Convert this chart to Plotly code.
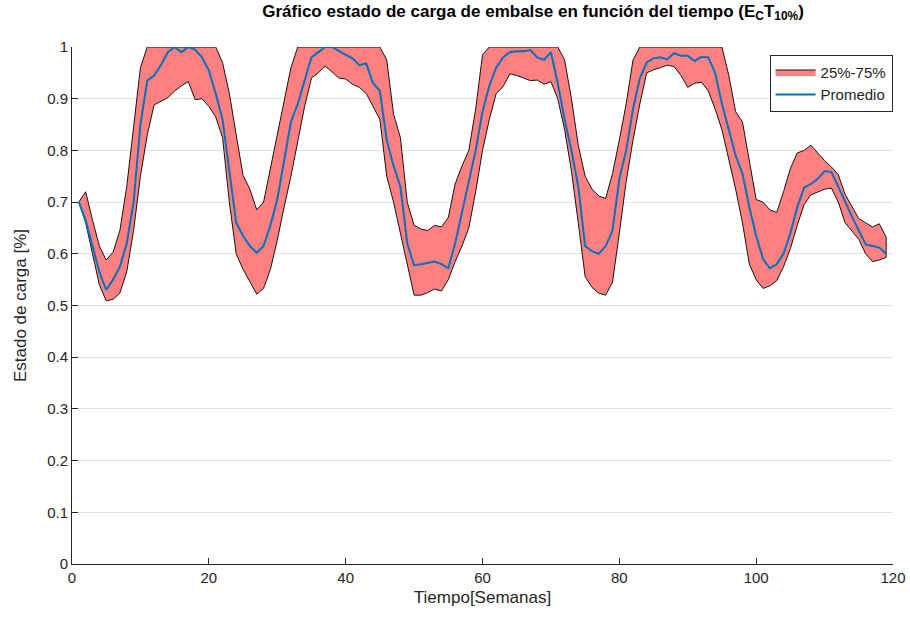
import plotly.graph_objects as go

semanas = list(range(1, 120))

percentil_75 = [
    0.70, 0.72, 0.665, 0.615, 0.588, 0.603, 0.645, 0.73, 0.845, 0.96,
    1.0, 1.0, 1.0, 1.0, 1.0, 1.0, 1.0, 1.0, 1.0, 1.0,
    1.0, 0.97, 0.91, 0.83, 0.752, 0.725, 0.685, 0.70, 0.765, 0.83,
    0.895, 0.96, 1.0, 1.0, 1.0, 1.0, 1.0, 1.0, 1.0, 1.0,
    1.0, 1.0, 1.0, 1.0, 1.0, 0.975, 0.87, 0.825, 0.70, 0.655,
    0.648, 0.645, 0.655, 0.652, 0.67, 0.735, 0.77, 0.80, 0.88, 0.985,
    1.0, 1.0, 1.0, 1.0, 1.0, 1.0, 1.0, 1.0, 1.0, 1.0,
    1.0, 0.975, 0.90, 0.81, 0.75, 0.725, 0.712, 0.707, 0.755, 0.82,
    0.89, 0.975, 1.0, 1.0, 1.0, 1.0, 1.0, 1.0, 1.0, 1.0,
    1.0, 1.0, 1.0, 1.0, 1.0, 0.945, 0.875, 0.855, 0.78, 0.705,
    0.70, 0.685, 0.68, 0.72, 0.765, 0.795, 0.80, 0.81, 0.795, 0.78,
    0.768, 0.753, 0.715, 0.69, 0.668, 0.66, 0.652, 0.658, 0.632,
]

percentil_25 = [
    0.70, 0.66, 0.60, 0.54, 0.509, 0.512, 0.524, 0.565, 0.645, 0.75,
    0.83, 0.888, 0.895, 0.902, 0.915, 0.925, 0.933, 0.898, 0.90, 0.885,
    0.865, 0.825, 0.70, 0.60, 0.57, 0.545, 0.522, 0.533, 0.57, 0.626,
    0.69, 0.75, 0.815, 0.885, 0.94, 0.95, 0.963, 0.952, 0.94, 0.938,
    0.928, 0.922, 0.91, 0.885, 0.86, 0.75, 0.70, 0.645, 0.58, 0.52,
    0.52, 0.525, 0.532, 0.528, 0.55, 0.585, 0.615, 0.65, 0.72, 0.80,
    0.86, 0.91, 0.923, 0.948, 0.945, 0.94, 0.935, 0.936, 0.928, 0.933,
    0.90, 0.84, 0.76, 0.66, 0.556, 0.535, 0.524, 0.52, 0.545, 0.64,
    0.74, 0.82, 0.89, 0.95, 0.956, 0.96, 0.965, 0.962, 0.945, 0.922,
    0.93, 0.932, 0.915, 0.88, 0.84, 0.785, 0.725, 0.66, 0.58, 0.55,
    0.533, 0.538, 0.548, 0.575, 0.61, 0.655, 0.695, 0.714, 0.72, 0.725,
    0.727, 0.70, 0.66, 0.645, 0.628, 0.60, 0.585, 0.588, 0.593,
]

promedio = [
    0.70, 0.665, 0.615, 0.565, 0.53, 0.55, 0.575, 0.62, 0.70, 0.85,
    0.935, 0.945, 0.965, 0.99, 1.0, 0.99, 1.0, 0.995, 0.98, 0.955,
    0.91, 0.86, 0.76, 0.66, 0.635, 0.615, 0.602, 0.615, 0.655, 0.705,
    0.78, 0.855, 0.89, 0.935, 0.98, 0.99, 1.0, 1.0, 0.992, 0.985,
    0.978, 0.965, 0.968, 0.93, 0.915, 0.82, 0.77, 0.73, 0.62, 0.578,
    0.58, 0.582, 0.585, 0.58, 0.572, 0.62, 0.68, 0.74, 0.80, 0.875,
    0.925, 0.96, 0.98, 0.99, 0.992, 0.992, 0.994, 0.98, 0.975, 0.99,
    0.93, 0.86, 0.80, 0.73, 0.615, 0.605, 0.60, 0.615, 0.645, 0.745,
    0.80, 0.88, 0.94, 0.97, 0.978, 0.98, 0.976, 0.988, 0.983, 0.983,
    0.973, 0.981, 0.98, 0.95, 0.89, 0.84, 0.79, 0.755, 0.69, 0.635,
    0.59, 0.572, 0.58, 0.60, 0.64, 0.69, 0.728, 0.735, 0.745, 0.76,
    0.758, 0.73, 0.70, 0.672, 0.645, 0.618, 0.615, 0.612, 0.60,
]

x_ticks = [0, 20, 40, 60, 80, 100, 120]
y_ticks = [0, 0.1, 0.2, 0.3, 0.4, 0.5, 0.6, 0.7, 0.8, 0.9, 1]
y_tick_labels = ["0", "0.1", "0.2", "0.3", "0.4", "0.5", "0.6", "0.7", "0.8", "0.9", "1"]

FONT = "Liberation Sans, Arial, sans-serif"

fig = go.Figure()

fig.add_trace(go.Scatter(
    x=semanas + semanas[::-1],
    y=percentil_75 + percentil_25[::-1],
    fill="toself",
    fillcolor="rgb(255,128,128)",
    line=dict(color="rgb(20,20,20)", width=1),
    mode="lines",
    name="25%-75%",
    hoverinfo="skip",
))

fig.add_trace(go.Scatter(
    x=semanas,
    y=promedio,
    mode="lines",
    line=dict(color="#0072BD", width=2),
    name="Promedio",
))

fig.update_layout(
    width=910,
    height=622,
    paper_bgcolor="white",
    plot_bgcolor="white",
    margin=dict(l=72, r=17, t=47, b=58, autoexpand=False),
    font=dict(family=FONT, size=15, color="#262626"),
    title=dict(
        text="<b>Gráfico estado de carga de embalse en función del tiempo (E<sub>C</sub>T<sub>10%</sub>)</b>",
        xref="container",
        x=533 / 910,
        xanchor="center",
        y=0.992,
        yanchor="top",
        font=dict(family=FONT, size=17, color="black"),
    ),
    showlegend=True,
    legend=dict(
        x=0.9995,
        y=0.985,
        xanchor="right",
        yanchor="top",
        bgcolor="white",
        bordercolor="rgb(40,40,40)",
        borderwidth=1,
        font=dict(family=FONT, size=15, color="#262626"),
        tracegroupgap=0,
        itemwidth=40,
    ),
    xaxis=dict(
        range=[0, 120],
        tickvals=x_ticks,
        ticks="inside",
        ticklen=6,
        tickcolor="#262626",
        showline=True,
        linecolor="#262626",
        linewidth=1,
        showgrid=False,
        zeroline=False,
        automargin=False,
        title=dict(text="Tiempo[Semanas]", font=dict(family=FONT, size=17, color="#262626"), standoff=6),
        tickfont=dict(size=15, color="#262626"),
    ),
    yaxis=dict(
        range=[0, 1],
        tickvals=y_ticks,
        ticktext=y_tick_labels,
        ticks="inside",
        ticklen=6,
        tickcolor="#262626",
        showline=True,
        linecolor="#262626",
        linewidth=1,
        showgrid=True,
        gridcolor="rgb(225,225,225)",
        gridwidth=1,
        zeroline=False,
        automargin=False,
        title=dict(text="Estado de carga [%]", font=dict(family=FONT, size=17, color="#262626"), standoff=16),
        tickfont=dict(size=15, color="#262626"),
    ),
)

fig.write_html(
    "out.html",
    config={"displayModeBar": False},
    post_script="document.body.style.margin='0px';document.body.style.overflow='hidden';",
)
